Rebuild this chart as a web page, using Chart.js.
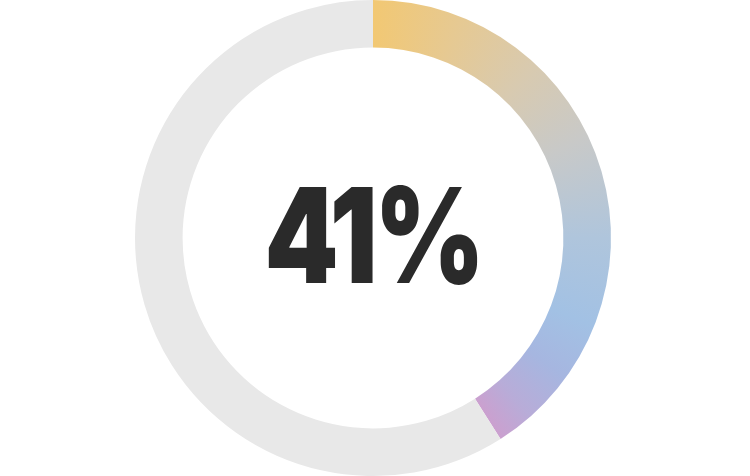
<!DOCTYPE html>
<html>
<head>
<meta charset="utf-8">
<script src="https://cdn.jsdelivr.net/npm/chart.js@4"></script>
<style>
  html, body { margin: 0; padding: 0; background: #fff; }
  #wrap { width: 750px; height: 476px; }
</style>
</head>
<body>
<div id="wrap"><canvas id="ring"></canvas></div>
<script>
const labels = ['Done', 'Left'];
const values = [41, 59];
const centerText = '41%';
const restColor = '#e8e8e8';

// colour stops along the arc (0 = top, going clockwise)
const gradStops = [
    [0.00, '#f2c873'],
    [0.06, '#e6c992'],
    [0.12, '#d8cab0'],
    [0.18, '#c8c9c8'],
    [0.25, '#afc5dc'],
    [0.31, '#a2c1e4'],
    [0.35, '#a6b6e0'],
    [0.385, '#b8acd8'],
    [0.41, '#cba0cf']
];

function sliceColor(context) {
    if (context.dataIndex !== 0) return restColor;
    const chart = context.chart;
    const area = chart.chartArea;
    if (!area) return '#f2c873';
    const cx = (area.left + area.right) / 2;
    const cy = (area.top + area.bottom) / 2;
    const g = chart.ctx.createConicGradient(-Math.PI / 2, cx, cy);
    gradStops.forEach(s => g.addColorStop(s[0], s[1]));
    g.addColorStop(1, '#f2c873');
    return g;
}

const centerLabel = {
    id: 'centerLabel',
    afterDraw(chart) {
        const area = chart.chartArea;
        const ctx = chart.ctx;
        const cx = (area.left + area.right) / 2;
        ctx.save();
        ctx.fillStyle = '#2a2a2a';
        ctx.font = '900 132px Inter, sans-serif';
        ctx.textAlign = 'center';
        ctx.textBaseline = 'alphabetic';
        if ('letterSpacing' in ctx) ctx.letterSpacing = '-4px';
        // squeeze the glyphs a bit, the original face is narrower
        ctx.translate(cx, 283);
        ctx.scale(0.8, 1);
        ctx.fillText(centerText, 0, 0);
        ctx.restore();
    }
};

new Chart(document.getElementById('ring').getContext('2d'), {
    type: 'doughnut',
    data: {
        labels: labels,
        datasets: [{
            data: values,
            backgroundColor: sliceColor,
            borderWidth: 0,
            hoverOffset: 0
        }]
    },
    options: {
        responsive: true,
        maintainAspectRatio: false,
        animation: false,
        cutout: '80%',
        layout: { padding: { right: 4 } },
        plugins: {
            legend: { display: false },
            tooltip: { enabled: false }
        }
    },
    plugins: [centerLabel]
});
</script>
</body>
</html>
